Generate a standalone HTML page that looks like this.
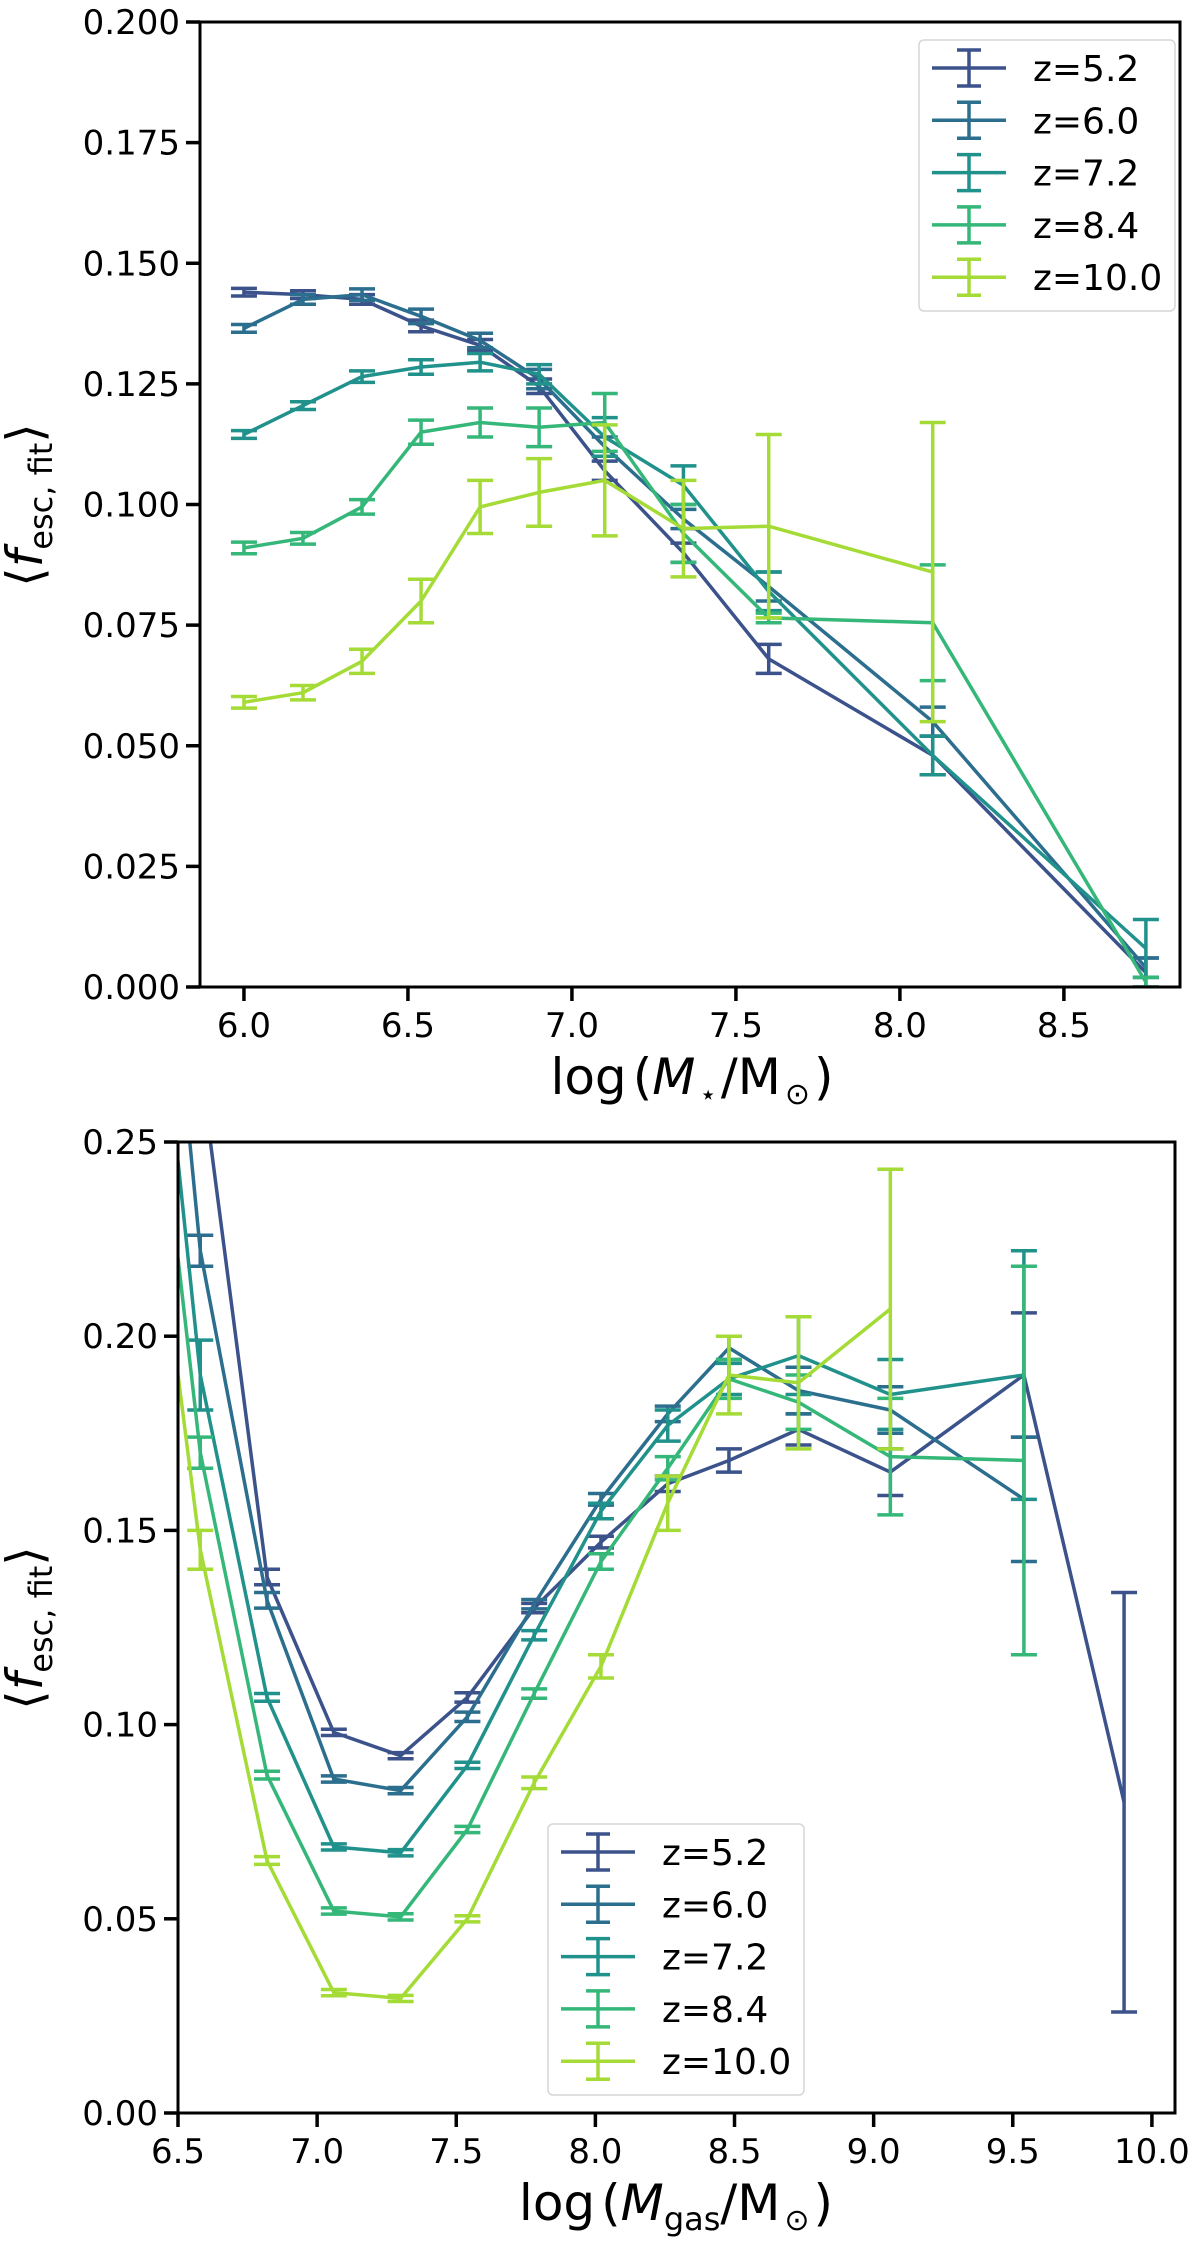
<!DOCTYPE html>
<html><head><meta charset="utf-8">
<style>
html,body{margin:0;padding:0;background:#fff;}
svg{display:block;font-family:"DejaVu Sans","Liberation Sans",sans-serif;}
</style></head>
<body>
<svg id="fig" width="1200" height="2249" viewBox="0 0 1200 2249" xmlns="http://www.w3.org/2000/svg"></svg>
<script>
// ---------- data ----------
const seriesLabels = ["z=5.2","z=6.0","z=7.2","z=8.4","z=10.0"];
const seriesColors = ["#3b528b","#2c6e8e","#21918c","#35b779","#a5db36"];

// top panel: stellar mass
const topX = [6.0,6.18,6.36,6.54,6.72,6.9,7.1,7.34,7.6,8.1,8.75];
const topY52  = [0.144,0.1435,0.1425,0.137,0.133,0.1245,0.107,0.090,0.068,0.048,0.003];
const topE52  = [0.0008,0.0008,0.001,0.0012,0.0012,0.0015,0.002,0.002,0.003,0.004,0.003];
const topY60  = [0.1365,0.1425,0.1435,0.139,0.134,0.126,0.112,0.097,0.083,0.055,0.004];
const topE60  = [0.0008,0.001,0.0012,0.0015,0.0015,0.002,0.002,0.002,0.003,0.003,0.002];
const topY72  = [0.1145,0.1205,0.1265,0.1285,0.1295,0.127,0.114,0.104,0.082,0.048,0.008];
const topE72  = [0.0008,0.0008,0.0012,0.0015,0.0018,0.002,0.004,0.004,0.004,0.004,0.006];
const topY84  = [0.091,0.093,0.0995,0.115,0.117,0.116,0.117,0.094,0.0765,0.0755,0.001];
const topE84  = [0.0012,0.0012,0.0015,0.0025,0.003,0.004,0.006,0.006,0.001,0.012,0.001];
const topY100 = [0.059,0.061,0.0675,0.080,0.0995,0.1025,0.105,0.095,0.0955,0.086];
const topE100 = [0.0012,0.0015,0.0025,0.0045,0.0055,0.007,0.0115,0.010,0.019,0.031];
const topXTicks = [6.0,6.5,7.0,7.5,8.0,8.5];
const topXTickLabels = ["6.0","6.5","7.0","7.5","8.0","8.5"];
const topYTicks = [0,0.025,0.05,0.075,0.1,0.125,0.15,0.175,0.2];
const topYTickLabels = ["0.000","0.025","0.050","0.075","0.100","0.125","0.150","0.175","0.200"];

// bottom panel: gas mass
const botX = [6.34,6.58,6.82,7.06,7.3,7.54,7.78,8.02,8.26,8.48,8.73,9.06,9.54,9.9];
const botY52  = [0.45,0.27,0.138,0.098,0.092,0.107,0.130,0.147,0.162,0.168,0.176,0.165,0.190,0.080];
const botE52  = [0,0.012,0.002,0.0008,0.0008,0.0012,0.0012,0.0015,0.002,0.003,0.004,0.006,0.016,0.054];
const botY60  = [0.40,0.222,0.132,0.086,0.083,0.102,0.131,0.158,0.180,0.197,0.186,0.181,0.158];
const botE60  = [0,0.004,0.002,0.0008,0.0008,0.0012,0.0012,0.0015,0.002,0.003,0.006,0.006,0.016];
const botY72  = [0.355,0.19,0.107,0.0685,0.067,0.0895,0.123,0.155,0.177,0.189,0.195,0.185,0.190];
const botE72  = [0,0.009,0.001,0.0008,0.0008,0.0008,0.0012,0.002,0.004,0.004,0.010,0.009,0.032];
const botY84  = [0.32,0.170,0.087,0.052,0.0505,0.073,0.108,0.142,0.166,0.189,0.183,0.169,0.168];
const botE84  = [0,0.004,0.001,0.0008,0.0008,0.0008,0.0012,0.002,0.003,0.005,0.007,0.015,0.050];
const botY100 = [0.28,0.145,0.065,0.031,0.0295,0.050,0.085,0.115,0.157,0.190,0.188,0.207];
const botE100 = [0,0.005,0.001,0.0008,0.0008,0.0008,0.0015,0.003,0.007,0.010,0.017,0.036];
const botXTicks = [6.5,7.0,7.5,8.0,8.5,9.0,9.5,10.0];
const botXTickLabels = ["6.5","7.0","7.5","8.0","8.5","9.0","9.5","10.0"];
const botYTicks = [0,0.05,0.1,0.15,0.2,0.25];
const botYTickLabels = ["0.00","0.05","0.10","0.15","0.20","0.25"];

// ---------- drawing ----------
const NS = "http://www.w3.org/2000/svg";
const svg = document.getElementById("fig");
function mk(tag, attrs, parent){
  const e = document.createElementNS(NS, tag);
  for (const k in attrs) e.setAttribute(k, attrs[k]);
  (parent||svg).appendChild(e);
  return e;
}

function panel(cfg){
  const g = mk("g", {});
  
  
  const sx = v => cfg.L + (v - cfg.xmin) / (cfg.xmax - cfg.xmin) * (cfg.R - cfg.L);
  const sy = v => cfg.B - (v - cfg.ymin) / (cfg.ymax - cfg.ymin) * (cfg.B - cfg.T);
  const clipId = cfg.name + "-clip";
  const cp = mk("clipPath", {id: clipId}, g);
  mk("rect", {x: cfg.L, y: cfg.T, width: cfg.R - cfg.L, height: cfg.B - cfg.T}, cp);
  const dg = mk("g", {"clip-path": "url(#" + clipId + ")"}, g);

  cfg.series.forEach((s, i) => {
    const sg = mk("g", {}, dg);
    
    
    const pts = s.y.map((v, j) => sx(cfg.x[j]).toFixed(1) + "," + sy(v).toFixed(1)).join(" ");
    const line = mk("polyline", {points: pts, fill: "none", stroke: seriesColors[i], "stroke-width": 3.5, "stroke-linejoin": "round"}, sg);
    
    
    s.y.forEach((v, j) => {
      const e = s.e[j];
      if (!e) return;
      const x = sx(cfg.x[j]);
      const y1 = sy(v + e), y2 = sy(v - e);
      const eb = mk("g", {stroke: seriesColors[i], "stroke-width": 3.5}, sg);
      
      
      mk("line", {x1: x, x2: x, y1: y1, y2: y2}, eb);
      mk("line", {x1: x - 13, x2: x + 13, y1: y1, y2: y1}, eb);
      mk("line", {x1: x - 13, x2: x + 13, y1: y2, y2: y2}, eb);
    });
  });

  const fr = mk("rect", {x: cfg.L, y: cfg.T, width: cfg.R - cfg.L, height: cfg.B - cfg.T, fill: "none", stroke: "#000", "stroke-width": 3}, g);
  
  

  cfg.xt.forEach((v, i) => {
    const x = sx(v);
    const t = mk("line", {x1: x, x2: x, y1: cfg.B, y2: cfg.B + 14, stroke: "#000", "stroke-width": 3.5}, g);
    
    
    const tx = mk("text", {x: x, y: cfg.B + 50, "font-size": 34, "text-anchor": "middle"}, g);
    tx.textContent = cfg.xtl[i];
    
    
  });
  cfg.yt.forEach((v, i) => {
    const y = sy(v);
    const t = mk("line", {x1: cfg.L - 14, x2: cfg.L, y1: y, y2: y, stroke: "#000", "stroke-width": 3.5}, g);
    
    
    const tx = mk("text", {x: cfg.L - 20, y: y + 12, "font-size": 34, "text-anchor": "end"}, g);
    tx.textContent = cfg.ytl[i];
    
    
  });

  const lg = mk("g", {}, g);
  
  
  mk("rect", {x: cfg.lx, y: cfg.ly, width: 256, height: 271, rx: 5, fill: "#fff", "fill-opacity": 0.85, stroke: "#d6d6d6", "stroke-width": 1.5}, lg);
  seriesLabels.forEach((lab, i) => {
    const cy = cfg.ly + 28 + i * 52.3;
    const ent = mk("g", {}, lg);
    
    
    const bx = cfg.lx + 50;
    mk("line", {x1: cfg.lx + 13, x2: cfg.lx + 87, y1: cy, y2: cy, stroke: seriesColors[i], "stroke-width": 3.5}, ent);
    mk("line", {x1: bx, x2: bx, y1: cy - 18, y2: cy + 18, stroke: seriesColors[i], "stroke-width": 3.5}, ent);
    mk("line", {x1: bx - 12, x2: bx + 12, y1: cy - 18, y2: cy - 18, stroke: seriesColors[i], "stroke-width": 3.5}, ent);
    mk("line", {x1: bx - 12, x2: bx + 12, y1: cy + 18, y2: cy + 18, stroke: seriesColors[i], "stroke-width": 3.5}, ent);
    const tx = mk("text", {x: cfg.lx + 114, y: cy + 13, "font-size": 36}, ent);
    tx.textContent = lab;
  });
  return {sx, sy};
}

panel({
  name: "stellar-mass-panel",
  L: 200, R: 1180, T: 22, B: 987,
  xmin: 5.866, xmax: 8.854, ymin: 0, ymax: 0.2,
  x: topX,
  series: [{y: topY52, e: topE52}, {y: topY60, e: topE60}, {y: topY72, e: topE72}, {y: topY84, e: topE84}, {y: topY100, e: topE100}],
  xt: topXTicks, xtl: topXTickLabels, yt: topYTicks, ytl: topYTickLabels,
  lx: 919, ly: 40
});
panel({
  name: "gas-mass-panel",
  L: 178, R: 1175, T: 1142, B: 2113,
  xmin: 6.5, xmax: 10.083, ymin: 0, ymax: 0.25,
  x: botX,
  series: [{y: botY52, e: botE52}, {y: botY60, e: botE60}, {y: botY72, e: botE72}, {y: botY84, e: botE84}, {y: botY100, e: botE100}],
  xt: botXTicks, xtl: botXTickLabels, yt: botYTicks, ytl: botYTickLabels,
  lx: 548, ly: 1824
});
</script>
<svg width="1200" height="2249" style="position:absolute;left:0;top:0;font-family:'DejaVu Sans','Liberation Sans',sans-serif" xmlns="http://www.w3.org/2000/svg">
  <text x="692" y="1094" font-size="50" text-anchor="middle">log<tspan dx="6">(</tspan><tspan font-style="italic">M</tspan><tspan font-size="28" dy="10" dx="4">⋆</tspan><tspan dy="-10" dx="4">/M</tspan><tspan font-size="30" dy="10" dx="4">⊙</tspan><tspan dy="-10" dx="4">)</tspan></text>
  <text transform="translate(42,505) rotate(-90)" font-size="50" text-anchor="middle">⟨<tspan font-style="italic">f</tspan><tspan font-size="32" dy="10">esc, fit</tspan><tspan dy="-10">⟩</tspan></text>
  <text x="676" y="2220" font-size="50" text-anchor="middle">log<tspan dx="6">(</tspan><tspan font-style="italic">M</tspan><tspan font-size="32" dy="10">gas</tspan><tspan dy="-10">/M</tspan><tspan font-size="30" dy="10" dx="4">⊙</tspan><tspan dy="-10" dx="4">)</tspan></text>
  <text transform="translate(42,1628) rotate(-90)" font-size="50" text-anchor="middle">⟨<tspan font-style="italic">f</tspan><tspan font-size="32" dy="10">esc, fit</tspan><tspan dy="-10">⟩</tspan></text>
</svg>
</body></html>
